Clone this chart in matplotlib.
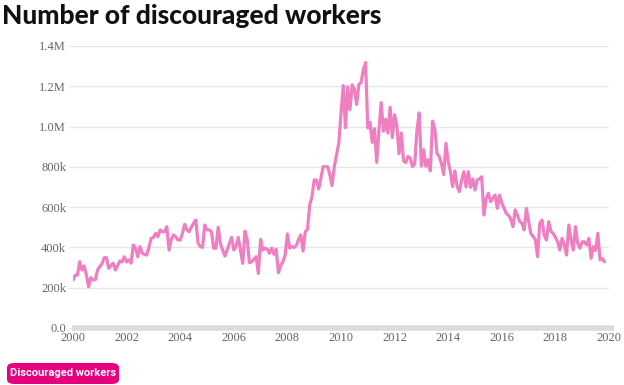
import numpy as np
import matplotlib
matplotlib.use("Agg")
import matplotlib.pyplot as plt
from matplotlib.patches import FancyBboxPatch

# monthly values (thousands), Jan 2000 onward
workers_k = [
    # 2000
    238, 262, 263, 329, 288, 308, 263, 205, 250, 238, 240, 288,
    # 2001
    304, 320, 349, 349, 296, 310, 322, 288, 310, 333, 328, 354,
    # 2002
    328, 338, 322, 412, 397, 354, 404, 372, 365, 362, 400, 445,
    # 2003
    450, 470, 453, 487, 478, 478, 503, 387, 440, 462, 453, 437,
    # 2004
    437, 470, 515, 487, 478, 500, 520, 536, 421, 404, 400, 511,
    # 2005
    487, 487, 478, 396, 396, 500, 420, 387, 357, 387, 420, 450,
    # 2006
    387, 404, 450, 387, 321, 481, 440, 324, 329, 340, 354, 271,
    # 2007
    440, 387, 396, 391, 371, 396, 366, 391, 275, 310, 329, 362,
    # 2008
    467, 396, 404, 400, 410, 440, 462, 382, 478, 490, 611, 652,
    # 2009
    735, 735, 690, 743, 801, 801, 801, 760, 707, 801, 859, 917,
    # 2010
    1065, 1204, 994, 1197, 1083, 1207, 1185, 1110, 1209, 1219, 1282, 1318,
    # 2011
    993, 1020, 921, 989, 822, 982, 1119, 977, 1037, 967, 1096, 945,
    # 2012
    1059, 1006, 865, 968, 830, 821, 852, 844, 802, 813, 979, 1068,
    # 2013
    804, 885, 803, 835, 780, 1027, 988, 866, 852, 815, 762, 917,
    # 2014
    826, 776, 702, 780, 702, 677, 735, 776, 700, 776, 698, 740,
    # 2015
    685, 735, 740, 751, 561, 644, 669, 627, 645, 660, 594, 660,
    # 2016
    620, 594, 569, 560, 540, 503, 586, 560, 530, 520, 487, 594,
    # 2017
    530, 470, 455, 440, 354, 520, 536, 460, 437, 528, 480, 470,
    # 2018
    450, 428, 387, 445, 412, 362, 511, 437, 387, 503, 420, 396,
    # 2019
    428, 428, 412, 445, 346, 404, 385, 470, 338, 345, 329,
]

y_ticks = [0, 200e3, 400e3, 600e3, 800e3, 1.0e6, 1.2e6, 1.4e6]
y_labels = ["0.0", "200k", "400k", "600k", "800k", "1.0M", "1.2M", "1.4M"]
x_ticks = list(range(2000, 2021, 2))
title = "Number of discouraged workers"
legend_label = "Discouraged workers"

values = np.array(workers_k) * 1000.0
t = 2000 + np.arange(len(values)) / 12.0

W, H = 624, 385
fig = plt.figure(figsize=(W / 100, H / 100), dpi=100)
ax = fig.add_axes([73 / W, 1 - 328 / H, (609 - 73) / W, (328 - 46) / H])

ax.plot(t, values, color="#f07fc2", linewidth=2.3, solid_joinstyle="round",
        solid_capstyle="round", zorder=3)

ax.set_xlim(2000, 2020)
ax.set_ylim(0, 1.4e6)
ax.set_yticks(y_ticks)
ax.set_yticklabels(y_labels)
ax.set_xticks(x_ticks)
ax.set_xticklabels([str(x) for x in x_ticks])

ax.grid(axis="y", color="#e6e6e6", linewidth=1)
ax.set_axisbelow(True)
for s in ax.spines.values():
    s.set_visible(False)

# thick baseline bar
ax.plot([1999.97, 2020.2], [0, 0], color="#dcdcdc", linewidth=4,
        clip_on=False, zorder=2, solid_capstyle="butt")

ax.tick_params(axis="y", length=3, color="#e6e6e6", pad=2,
               labelcolor="#666666", labelsize=9)
ax.tick_params(axis="x", length=0, pad=3, labelcolor="#666666", labelsize=9)
for lab in ax.get_xticklabels() + ax.get_yticklabels():
    lab.set_family("Liberation Serif")

fig.text(2 / W, 1 - 16 / H, title, fontsize=19, fontweight=900,
         family="Lato", color="#111111", va="center", ha="left")

# legend pill
box = FancyBboxPatch((7 / W, 1 - 384 / H), 112 / W, 21 / H,
                     boxstyle="round,pad=0,rounding_size=0.012",
                     transform=fig.transFigure, facecolor="#e5007d",
                     edgecolor="none")
fig.patches.append(box)
fig.text(63 / W, 1 - 373.5 / H, legend_label, fontsize=8, fontweight="bold",
         family="Roboto", color="white", ha="center", va="center")

fig.savefig("out.png", dpi=100)
